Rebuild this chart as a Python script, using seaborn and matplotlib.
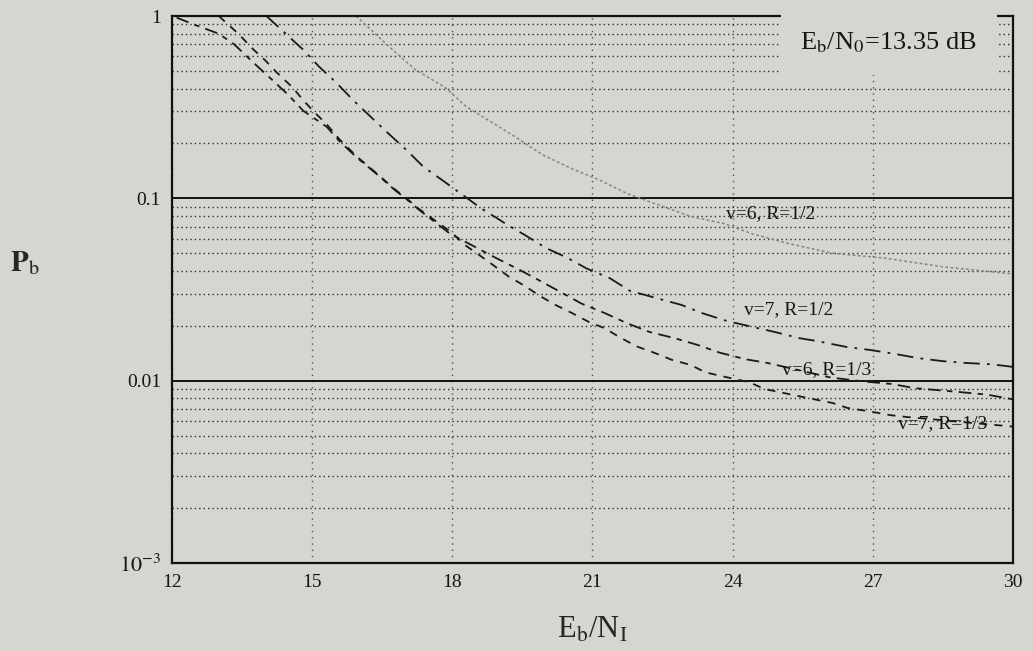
import matplotlib
matplotlib.use("Agg")
import matplotlib.pyplot as plt
import seaborn as sns
from matplotlib.ticker import FixedLocator, FixedFormatter, LogLocator, NullFormatter

# ---------------- data ----------------
x_v6_r12 = [15.94, 16.24, 16.73, 17.2, 17.85, 18.3, 18.9, 19.34, 19.94, 20.54, 21.15,
            21.75, 22.52, 23.12, 23.81, 24.41, 25.19, 26.13, 27.25, 28.54, 30.0]
p_v6_r12 = [1.0, 0.849, 0.65, 0.51, 0.405, 0.318, 0.256, 0.218, 0.173, 0.146, 0.126,
            0.106, 0.0899, 0.0793, 0.0728, 0.064, 0.0566, 0.050, 0.047, 0.042, 0.0385]

x_v7_r12 = [14.02, 14.31, 14.8, 15.15, 15.52, 15.89, 16.63, 17.02, 17.38, 17.8, 18.23,
            18.62, 18.95, 19.16, 19.55, 20.01, 20.44, 20.87, 21.37, 21.8, 22.91, 23.36,
            23.89, 24.9, 25.43, 25.8, 26.44, 26.97, 27.49, 27.96, 28.49, 29.0, 29.54, 30.0]
p_v7_r12 = [1.0, 0.856, 0.656, 0.527, 0.43, 0.343, 0.227, 0.184, 0.149, 0.125, 0.104,
            0.088, 0.078, 0.072, 0.063, 0.0533, 0.0475, 0.0413, 0.0365, 0.0311, 0.026, 0.0234,
            0.0212, 0.0185, 0.0171, 0.0165, 0.0153, 0.0147, 0.014, 0.0133, 0.0128, 0.0125, 0.0123, 0.0119]

x_v6_r13 = [12.1, 12.46, 13.0, 13.33, 13.7, 14.11, 14.49, 14.81, 15.31, 15.59, 15.95,
            16.38, 16.77, 17.06, 17.3, 17.95, 18.92, 19.4, 19.85, 20.34, 20.76, 21.26,
            21.73, 22.22, 22.76, 23.25, 23.72, 24.28, 24.75, 25.3, 26.1, 26.8, 27.42,
            27.89, 28.86, 29.45, 30.0]
p_v6_r13 = [0.98, 0.90, 0.80, 0.70, 0.568, 0.455, 0.369, 0.302, 0.247, 0.205, 0.168,
            0.136, 0.111, 0.097, 0.086, 0.064, 0.0473, 0.041, 0.0356, 0.0304, 0.0265, 0.0235,
            0.0207, 0.0185, 0.0171, 0.0157, 0.01425, 0.0131, 0.0125, 0.0116, 0.0104, 0.0099, 0.00958,
            0.0091, 0.00866, 0.00838, 0.0079]

x_v7_r13 = [13.0, 13.2, 13.44, 13.74, 13.99, 14.25, 14.58, 14.82, 15.04, 15.31, 15.59,
            15.95, 16.38, 16.77, 17.06, 17.27, 17.95, 18.29, 18.57, 18.87, 19.21, 19.55,
            19.87, 20.21, 20.56, 20.92, 21.26, 21.6, 21.95, 22.33, 22.7, 23.1, 23.42, 23.83,
            24.36, 24.68, 24.96, 25.54, 26.14, 26.46, 26.91, 27.36, 27.72, 28.1, 29.0, 30.0]
p_v7_r13 = [1.0, 0.90, 0.79, 0.656, 0.573, 0.488, 0.406, 0.343, 0.298, 0.255, 0.210,
            0.170, 0.137, 0.112, 0.098, 0.088, 0.066, 0.055, 0.049, 0.0431, 0.0372, 0.0331,
            0.0292, 0.026, 0.0235, 0.021, 0.0194, 0.0172, 0.0154, 0.0142, 0.013, 0.0122, 0.0111, 0.0105,
            0.0098, 0.009, 0.0087, 0.0081, 0.00754, 0.00708, 0.0068, 0.00648, 0.00632, 0.0062, 0.0059, 0.0056]

x_ticks = [12, 15, 18, 21, 24, 27, 30]
x_tick_labels = ["12", "15", "18", "21", "24", "27", "30"]
y_ticks = [1e-3, 1e-2, 1e-1, 1.0]
y_tick_labels = [r"$10^{-3}$", "0.01", "0.1", "1"]

curve_labels = ["v=6, R=1/2", "v=7, R=1/2", "v=6, R=1/3", "v=7, R=1/3"]
label_pos_x = [23.85, 24.25, 25.05, 27.55]
label_pos_y = [0.0825, 0.0244, 0.0115, 0.0058]

# ---------------- styling ----------------
sns.set_style("white")
plt.rcParams["font.family"] = ["Liberation Serif", "DejaVu Serif"]
plt.rcParams["mathtext.fontset"] = "stix"

BG = "#d4d6d0"
fig = plt.figure(figsize=(10.33, 6.51), dpi=100, facecolor=BG)
ax = fig.add_axes([0.1665, 0.1352, 0.8141, 0.8402])
ax.set_facecolor(BG)
ax.set_yscale("log")
ax.set_xlim(12, 30)
ax.set_ylim(1e-3, 1)
ax.set_axisbelow(True)

# grid
ax.yaxis.set_minor_locator(LogLocator(base=10, subs=[2, 3, 4, 5, 6, 7, 8, 9]))
ax.yaxis.set_minor_formatter(NullFormatter())
ax.grid(which="minor", axis="y", linestyle=(0, (1, 2.2)), color="#2e2e2e", linewidth=1.0)
ax.grid(which="major", axis="y", linestyle="-", color="#111111", linewidth=1.4)
ax.grid(which="major", axis="x", linestyle=(0, (1, 3.5)), color="#505050", linewidth=1.0)

# curves
styles = [
    dict(color="#858585", linestyle=(0, (1.8, 1.6)), linewidth=1.1),
    dict(color="#1a1a1a", linestyle=(0, (9, 4, 1.5, 4)), linewidth=1.3),
    dict(color="#1a1a1a", linestyle=(0, (7, 3.5, 3, 3.5)), linewidth=1.3),
    dict(color="#1a1a1a", linestyle=(0, (4.5, 4)), linewidth=1.3),
]
series = [(x_v6_r12, p_v6_r12), (x_v7_r12, p_v7_r12), (x_v6_r13, p_v6_r13), (x_v7_r13, p_v7_r13)]
for (xs, ps), st in zip(series, styles):
    sns.lineplot(x=xs, y=ps, ax=ax, estimator=None, sort=False, **st)

for s, lx, ly in zip(curve_labels, label_pos_x, label_pos_y):
    ax.text(lx, ly, s, fontsize=14, ha="left", va="center", color="#151515", zorder=5)

ax.text(25.45, 0.71, r"E$_\mathrm{b}$/N$_0$=13.35 dB", fontsize=19, ha="left", va="center",
        color="#151515", zorder=6,
        bbox=dict(boxstyle="square,pad=0.75", facecolor=BG, edgecolor="none"))

# ticks
ax.xaxis.set_major_locator(FixedLocator(x_ticks))
ax.xaxis.set_major_formatter(FixedFormatter(x_tick_labels))
ax.yaxis.set_major_locator(FixedLocator(y_ticks))
ax.yaxis.set_major_formatter(FixedFormatter(y_tick_labels))
ax.tick_params(axis="both", which="both", length=0, pad=8, labelsize=14, colors="#151515")
for lab in ax.get_yticklabels():
    if "10^" in lab.get_text():
        lab.set_fontsize(16)

for sp in ax.spines.values():
    sp.set_visible(True)
    sp.set_color("#111111")
    sp.set_linewidth(1.6)

ax.set_ylabel(r"$\mathbf{P}_\mathrm{b}$", rotation=0, fontsize=21, ha="center", va="center")
ax.yaxis.set_label_coords(-0.175, 0.548)
ax.set_xlabel(r"E$_\mathrm{b}$/N$_\mathrm{I}$", fontsize=22, va="center")
ax.xaxis.set_label_coords(0.5, -0.1225)

fig.savefig("out.png", dpi=100, facecolor=BG)
